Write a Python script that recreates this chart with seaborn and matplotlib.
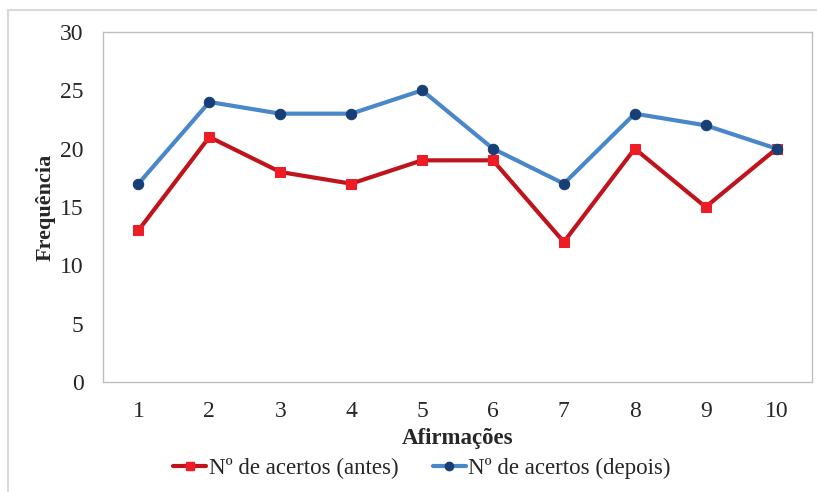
import numpy as np
import pandas as pd
import seaborn as sns
import matplotlib.pyplot as plt
from matplotlib.lines import Line2D
from matplotlib.patches import Rectangle

afirmacoes = [1, 2, 3, 4, 5, 6, 7, 8, 9, 10]
acertos_antes = [13, 21, 18, 17, 19, 19, 12, 20, 15, 20]
acertos_depois = [17, 24, 23, 23, 25, 20, 17, 23, 22, 20]
label_antes = "Nº de acertos (antes)"
label_depois = "Nº de acertos (depois)"

df = pd.DataFrame({
    "Afirmações": afirmacoes * 2,
    "Frequência": acertos_antes + acertos_depois,
    "serie": [label_antes] * 10 + [label_depois] * 10,
})

sns.set_style("white")
plt.rcParams["font.family"] = ["Liberation Serif", "DejaVu Serif"]

fig = plt.figure(figsize=(8.17, 4.92), dpi=100)
ax = fig.add_axes([103 / 817, 1 - 382 / 492, (812 - 103) / 817, (382 - 32) / 492])

red_line, red_marker = "#C0141C", "#EE1C25"
blue_line, blue_marker = "#4A87C9", "#173F75"

sns.lineplot(data=df[df.serie == label_antes], x="Afirmações", y="Frequência",
             ax=ax, color=red_line, lw=3, marker="s", markersize=7.5,
             markerfacecolor=red_marker, markeredgecolor=red_marker, zorder=3)
sns.lineplot(data=df[df.serie == label_depois], x="Afirmações", y="Frequência",
             ax=ax, color=blue_line, lw=3, marker="o", markersize=7.5,
             markerfacecolor=blue_marker, markeredgecolor=blue_marker, zorder=4)

ax.set_xlim(0.5, 10.5)
ax.set_ylim(0, 30)
ax.set_yticks(np.arange(0, 31, 5))
ax.set_xticks(afirmacoes)
ax.set_xticks(np.arange(0.5, 11, 1), minor=True)
ax.tick_params(axis="x", which="major", length=0, pad=14, labelsize=17)
ax.tick_params(axis="x", which="minor", length=7, width=1, color="#BFBFBF", direction="out")
ax.tick_params(axis="y", length=7, width=1, color="#BFBFBF", direction="out", pad=7, labelsize=17)
for s in ax.spines.values():
    s.set_color("#BFBFBF")
    s.set_linewidth(1)

ax.set_xlabel("Afirmações", fontsize=16.5, fontweight="bold", labelpad=4)
ax.set_ylabel("Frequência", fontsize=16, fontweight="bold", labelpad=3)

handles = [
    Line2D([], [], color=red_line, lw=3, marker="s", markersize=6,
           markerfacecolor=red_marker, markeredgecolor=red_marker),
    Line2D([], [], color=blue_line, lw=3, marker="o", markersize=6,
           markerfacecolor=blue_marker, markeredgecolor=blue_marker),
]
fig.legend(handles, [label_antes, label_depois], loc="center",
           bbox_to_anchor=(422 / 817, 1 - 468 / 492), ncol=2, frameon=False,
           fontsize=16.5, handlelength=1.45, handletextpad=0.1, columnspacing=1.5,
           borderpad=0, borderaxespad=0)

fig.patches.append(Rectangle((8 / 817, -0.1), 1.2, 1.1 - 10 / 492,
                             transform=fig.transFigure, fill=False,
                             edgecolor="#D9D9D9", lw=1.5))

fig.savefig("out.png", dpi=100)
